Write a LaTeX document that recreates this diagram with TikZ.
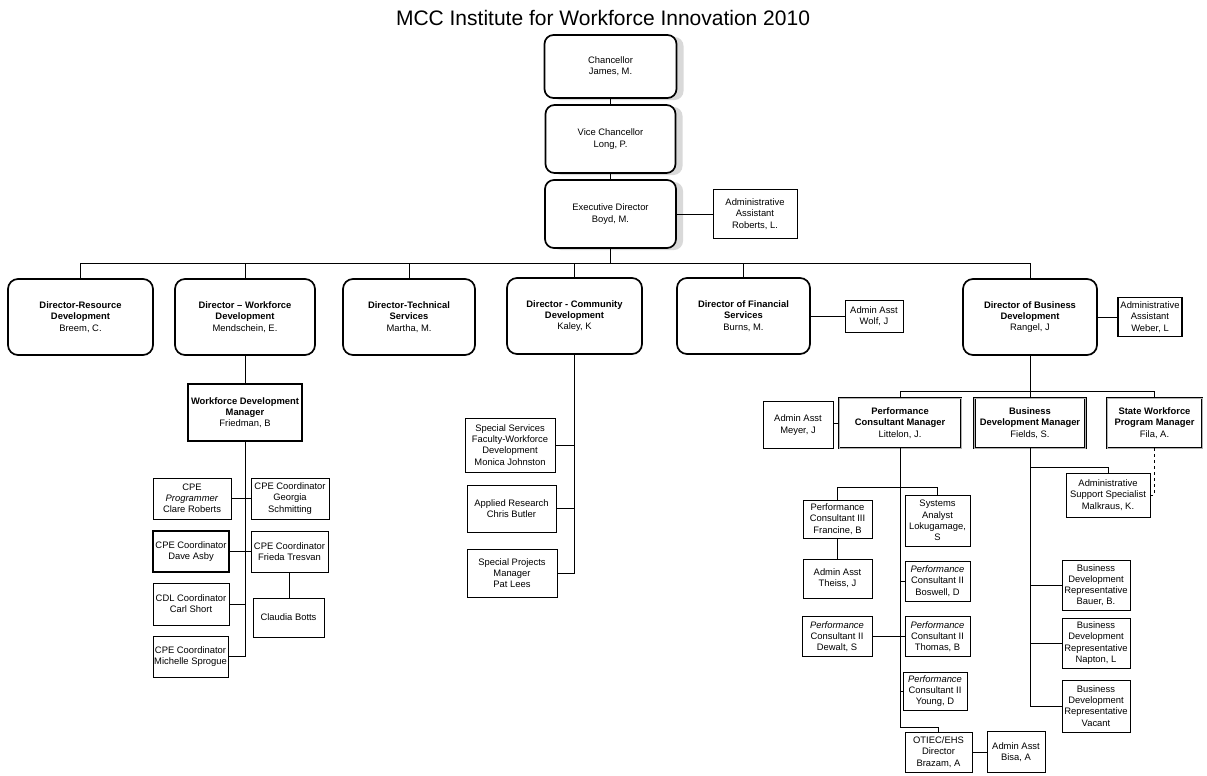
\documentclass[tikz,border=0pt]{standalone}
\usepackage{fontspec}
\setmainfont{Liberation Sans}
\usetikzlibrary{shadows}
\begin{document}
\begin{tikzpicture}[x=1pt,y=-1pt,
  txt/.style={align=center, inner sep=1pt, font=\fontsize{9.4}{11.2}\selectfont},
  topbox/.style={txt, draw=black, line width=1.7pt, rounded corners=9pt, fill=white,
     drop shadow={shadow xshift=7pt, shadow yshift=-2pt, fill=gray!30, opacity=1}},
  dirbox/.style={txt, draw=black, line width=1.7pt, rounded corners=10pt, fill=white},
  mgrbox/.style={txt, draw=black, line width=0.7pt, double=gray!60, double distance=0.8pt, fill=white},
  wdmbox/.style={txt, draw=black, line width=1.4pt, fill=white},
  plainbox/.style={txt, draw=black, line width=0.9pt, fill=white},
  link/.style={line width=1pt, draw=black},
  dlink/.style={line width=1pt, draw=black, dashed}]
\useasboundingbox (0,0) rectangle (1207,776);
\fill[white] (0,0) rectangle (1207,776);

\node[font=\fontsize{21}{24}\selectfont] (title) at (603,18) {MCC Institute for Workforce Innovation 2010};

% top chain
\node[topbox, minimum width=132pt, minimum height=63pt] (chan) at (610.5,66.5) {Chancellor\\James, M.};
\node[topbox, minimum width=130pt, minimum height=68pt] (vc) at (610.5,139) {Vice Chancellor\\Long, P.};
\node[topbox, minimum width=131pt, minimum height=68pt] (ed) at (610.5,214) {Executive Director\\Boyd, M.};
\node[plainbox, minimum width=84pt, minimum height=49pt] (aa1) at (755,214) {Administrative\\Assistant\\Roberts, L.};

% directors
\node[dirbox, minimum width=145pt, minimum height=76pt] (d1) at (80.5,317) {\textbf{Director-Resource}\\\textbf{Development}\\Breem, C.};
\node[dirbox, minimum width=140pt, minimum height=76pt] (d2) at (245,317) {\textbf{Director -- Workforce}\\\textbf{Development}\\Mendschein, E.};
\node[dirbox, minimum width=132pt, minimum height=76pt] (d3) at (409,317) {\textbf{Director-Technical}\\\textbf{Services}\\Martha, M.};
\node[dirbox, minimum width=135pt, minimum height=76pt] (d4) at (574.5,316) {\textbf{Director - Community}\\\textbf{Development}\\Kaley, K};
\node[dirbox, minimum width=133pt, minimum height=76pt] (d5) at (743.5,316) {\textbf{Director of Financial}\\\textbf{Services}\\Burns, M.};
\node[plainbox, minimum width=58pt, minimum height=32pt] (wolf) at (874,316) {Admin Asst\\Wolf, J};
\node[dirbox, minimum width=134pt, minimum height=76pt] (d6) at (1030,317) {\textbf{Director of Business}\\\textbf{Development}\\Rangel, J};
\node[plainbox, line width=1.3pt, minimum width=64pt, minimum height=39pt] (weber) at (1150,317) {Administrative\\Assistant\\Weber, L};

\coordinate (bus) at (0,263);
\draw[link] (chan.south) -- (vc.north);
\draw[link] (vc.south) -- (ed.north);
\draw[link] (ed.east) -- (aa1.west);
\draw[link] (ed.south) -- (ed.south |- bus);
\draw[link] (d1.north) -- (d1.north |- bus) -| (d6.north);
\foreach \d in {d2,d3,d4,d5} \draw[link] (\d.north) -- (\d.north |- bus);
\draw[link] (d5.east) -- (wolf.west);
\draw[link] (d6.east) -- (weber.west);

% workforce development
\node[wdmbox, minimum width=114pt, minimum height=57pt] (wdm) at (245,412.5) {\textbf{Workforce Development}\\\textbf{Manager}\\Friedman, B};
\node[plainbox, minimum width=78pt, minimum height=41pt] (cpeprog) at (192,498.5) {CPE\\\textit{Programmer}\\Clare Roberts};
\node[plainbox, minimum width=78pt, minimum height=41pt] (georgia) at (290,498.5) {CPE Coordinator\\Georgia\\Schmitting};
\node[plainbox, line width=1.3pt, minimum width=76pt, minimum height=41pt] (dave) at (191,551.5) {CPE Coordinator\\Dave Asby};
\node[plainbox, minimum width=77pt, minimum height=41pt] (frieda) at (289.5,551.5) {CPE Coordinator\\Frieda Tresvan};
\node[plainbox, minimum width=71pt, minimum height=39pt] (claudia) at (288.5,617.5) {Claudia Botts};
\node[plainbox, minimum width=76pt, minimum height=42pt] (carl) at (191,604) {CDL Coordinator\\Carl Short};
\node[plainbox, minimum width=75pt, minimum height=41pt] (michelle) at (190.5,656.5) {CPE Coordinator\\Michelle Sprogue};

\draw[link] (d2.south) -- (wdm.north);
\draw[link] (wdm.south) -- (wdm.south |- michelle.east);
\draw[link] (cpeprog.east) -- (georgia.west);
\draw[link] (dave.east) -- (frieda.west);
\draw[link] (frieda.south) -- (claudia.north -| frieda.south);
\draw[link] (carl.east) -- (carl.east -| wdm.south);
\draw[link] (michelle.east) -- (michelle.east -| wdm.south);

% community development
\node[plainbox, minimum width=90pt, minimum height=54pt] (ss) at (510,445) {Special Services\\Faculty-Workforce\\Development\\Monica Johnston};
\node[plainbox, minimum width=89pt, minimum height=47pt] (ar) at (511.5,508.5) {Applied Research\\Chris Butler};
\node[plainbox, minimum width=90pt, minimum height=48pt] (sp) at (512,573) {Special Projects\\Manager\\Pat Lees};
\draw[link] (d4.south) -- (d4.south |- sp.east);
\draw[link] (ss.east) -- (ss.east -| d4.south);
\draw[link] (ar.east) -- (ar.east -| d4.south);
\draw[link] (sp.east) -- (sp.east -| d4.south);

% business development
\node[plainbox, minimum width=70pt, minimum height=47pt] (meyer) at (798,425) {Admin Asst\\Meyer, J};
\node[mgrbox, minimum width=122pt, minimum height=50pt] (pcm) at (900,423) {\textbf{Performance}\\\textbf{Consultant Manager}\\Littelon, J.};
\node[mgrbox, minimum width=111pt, minimum height=50pt] (bdm) at (1030,423) {\textbf{Business}\\\textbf{Development Manager}\\Fields, S.};
\node[mgrbox, minimum width=95pt, minimum height=50pt] (swpm) at (1154.5,423) {\textbf{State Workforce}\\\textbf{Program Manager}\\Fila, A.};
\node[plainbox, minimum width=84pt, minimum height=44pt] (mal) at (1108,495) {Administrative\\Support Specialist\\Malkraus, K.};
\node[plainbox, minimum width=68pt, minimum height=50pt] (bauer) at (1096,585) {Business\\Development\\Representative\\Bauer, B.};
\node[plainbox, minimum width=68pt, minimum height=50pt] (napton) at (1096,643) {Business\\Development\\Representative\\Napton, L};
\node[plainbox, minimum width=68pt, minimum height=52pt] (vacant) at (1096,706) {Business\\Development\\Representative\\Vacant};

\draw[link] (d6.south) -- (bdm.north);
\draw[link] (pcm.north) -- ++(0,-6) -| (swpm.north);
\draw[link] (pcm.west) -- (pcm.west -| meyer.east);
\draw[link] (bdm.south) -- (bdm.south |- vacant.west) -- (vacant.west);
\draw[link] (bdm.south) ++(0,19) -| (mal.north);
\draw[dlink] (swpm.south) |- (mal.east);
\draw[link] (bauer.west) -- (bauer.west -| bdm.south);
\draw[link] (napton.west) -- (napton.west -| bdm.south);

% performance consultants
\node[plainbox, minimum width=69pt, minimum height=38pt] (pc3) at (837.5,519) {Performance\\Consultant III\\Francine, B};
\node[plainbox, minimum width=69pt, minimum height=39pt] (theiss) at (837.5,578.5) {Admin Asst\\Theiss, J};
\node[plainbox, minimum width=65pt, minimum height=51pt] (sa) at (937.5,520.5) {Systems\\Analyst\\Lokugamage,\\S};
\node[plainbox, minimum width=65pt, minimum height=40pt] (boswell) at (937.5,581) {\textit{Performance}\\Consultant II\\Boswell, D};
\node[plainbox, minimum width=70pt, minimum height=40pt] (dewalt) at (837,636.5) {\textit{Performance}\\Consultant II\\Dewalt, S};
\node[plainbox, minimum width=65pt, minimum height=40pt] (thomas) at (937.5,636.5) {\textit{Performance}\\Consultant II\\Thomas, B};
\node[plainbox, minimum width=64pt, minimum height=38pt] (young) at (935,691) {\textit{Performance}\\Consultant II\\Young, D};
\node[plainbox, minimum width=67pt, minimum height=40pt] (otiec) at (938.5,752) {OTIEC/EHS\\Director\\Brazam, A};
\node[plainbox, minimum width=58pt, minimum height=41pt] (bisa) at (1016,752) {Admin Asst\\Bisa, A};

\draw[link] (pcm.south) -- ++(0,279) -| (otiec.north);
\draw[link] (pc3.north) -- ++(0,-12) -| (sa.north);
\draw[link] (pc3.south) -- (theiss.north);
\draw[link] (boswell.west) -- (boswell.west -| pcm.south);
\draw[link] (dewalt.east) -- (thomas.west);
\draw[link] (young.west) -- (young.west -| pcm.south);
\draw[link] (otiec.east) -- (bisa.west);
\end{tikzpicture}
\end{document}
